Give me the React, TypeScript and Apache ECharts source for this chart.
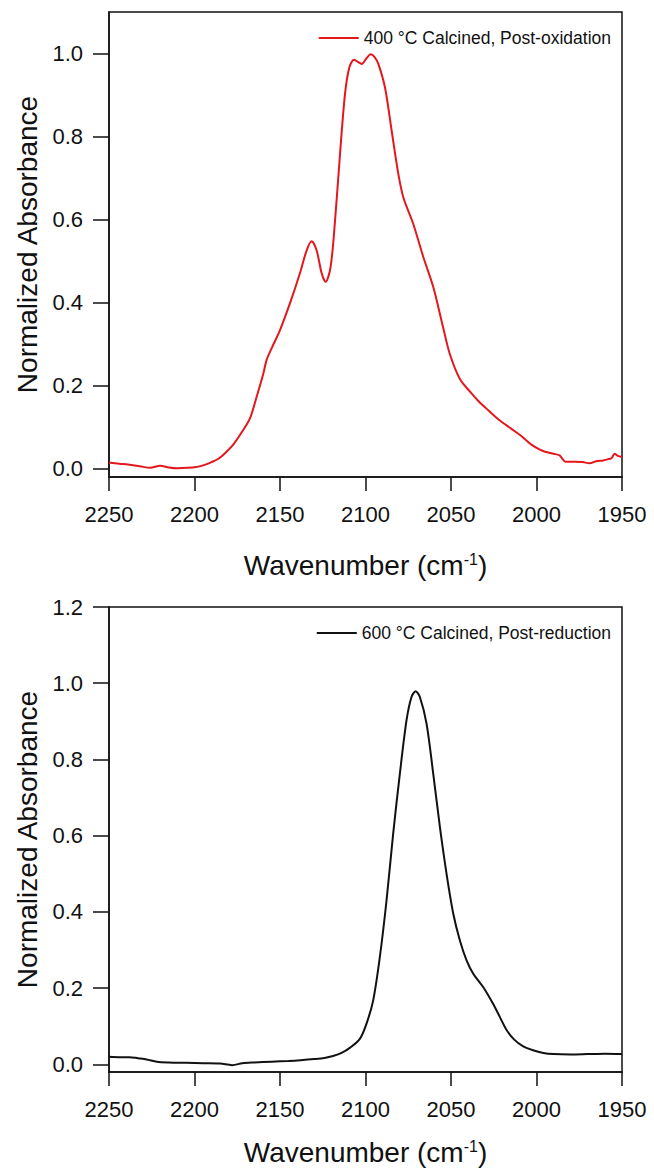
import React, { useEffect, useRef } from "react";
import * as echarts from "echarts";

// ---------- Data ----------
const topWavenumbers = [
  2250, 2244, 2239, 2232, 2226, 2220, 2215, 2210, 2204, 2199, 2195, 2190, 2186, 2182, 2177, 2172,
  2167.5, 2163.6, 2160, 2157.8, 2154.9, 2150, 2144.2, 2138.4, 2134.4, 2131.5, 2128.6, 2125.6,
  2123.3, 2120.4, 2117.8, 2114.9, 2112, 2109.5, 2106.7, 2104.5, 2102.2, 2099.5, 2097, 2094.8,
  2092.5, 2088.6, 2084.7, 2080.8, 2077.9, 2072.1, 2066.2, 2060.4, 2054.6, 2050.6, 2044.8, 2039,
  2034, 2028, 2022, 2015, 2008.7, 2003, 1998, 1995, 1990, 1986.5, 1984.5, 1983, 1978, 1973, 1969,
  1965, 1961, 1958, 1956, 1954.3, 1952.5, 1950,
];
const topAbsorbance = [
  0.015, 0.012, 0.01, 0.006, 0.002, 0.007, 0.003, 0.001, 0.002, 0.004, 0.008, 0.016, 0.024, 0.038,
  0.06, 0.09, 0.122, 0.174, 0.225, 0.262, 0.29, 0.334, 0.398, 0.47, 0.526, 0.548, 0.526, 0.47,
  0.45, 0.486, 0.598, 0.758, 0.902, 0.966, 0.985, 0.98, 0.975, 0.988, 0.998, 0.992, 0.975, 0.918,
  0.814, 0.71, 0.654, 0.59, 0.51, 0.438, 0.34, 0.275, 0.216, 0.186, 0.163, 0.14, 0.118, 0.097,
  0.078, 0.058, 0.046, 0.041, 0.036, 0.032, 0.022, 0.017, 0.017, 0.016, 0.013, 0.018, 0.02, 0.023,
  0.026, 0.036, 0.031, 0.028,
];

const bottomWavenumbers = [
  2250, 2244, 2238, 2233, 2228, 2222, 2215, 2205, 2195, 2185, 2178, 2172, 2165, 2155, 2145, 2138,
  2130, 2124, 2119, 2114, 2109, 2103.3, 2099.4, 2095.5, 2091.6, 2087.7, 2083.8, 2079.9, 2076,
  2073.1, 2070.7, 2068.2, 2064.3, 2060.4, 2056.5, 2052.6, 2048.7, 2044.8, 2040.9, 2037, 2031.2,
  2025.4, 2021.4, 2017.5, 2013, 2008, 2002, 1996, 1990, 1980, 1970, 1960, 1950,
];
const bottomAbsorbance = [
  0.02, 0.019, 0.019, 0.016, 0.013, 0.007, 0.005, 0.004, 0.003, 0.002, -0.002, 0.003, 0.005,
  0.007, 0.009, 0.011, 0.014, 0.017, 0.022, 0.03, 0.044, 0.067, 0.107, 0.168, 0.282, 0.43, 0.606,
  0.763, 0.903, 0.964, 0.979, 0.964, 0.894, 0.763, 0.623, 0.5, 0.396, 0.325, 0.273, 0.238, 0.203,
  0.159, 0.124, 0.09, 0.065, 0.048, 0.037, 0.03, 0.027, 0.026, 0.027, 0.028, 0.027,
];

const topTicks = [0, 0.2, 0.4, 0.6, 0.8, 1.0];
const bottomTicks = [0, 0.2, 0.4, 0.6, 0.8, 1.0, 1.2];

const topName = "400 °C Calcined, Post-oxidation";
const bottomName = "600 °C Calcined, Post-reduction";

const FONT = 'Arial, "Liberation Sans", sans-serif';

function xAxisFor(gridIndex: number, nameGap: number) {
  return {
    gridIndex,
    type: "value",
    min: 1950,
    max: 2250,
    interval: 50,
    inverse: true,
    name: "Wavenumber (cm{sup|-1})",
    nameLocation: "middle",
    nameGap,
    nameTextStyle: {
      fontSize: 28,
      fontFamily: FONT,
      color: "#111",
      rich: {
        sup: { fontSize: 16, fontFamily: FONT, color: "#111", verticalAlign: "top" },
      },
    },
    axisLine: { show: true, onZero: false, lineStyle: { color: "#111", width: 1.5 } },
    axisTick: { show: true, inside: false, length: 14, lineStyle: { color: "#111", width: 1.5 } },
    axisLabel: {
      fontSize: 22,
      fontFamily: FONT,
      color: "#111",
      margin: 26,
      formatter: (v: number) => String(v),
    },
    splitLine: { show: false },
  };
}

function yAxisFor(gridIndex: number, max: number, ticks: number[]) {
  return {
    gridIndex,
    type: "value",
    min: -0.02,
    max,
    name: "Normalized Absorbance",
    nameLocation: "middle",
    nameGap: 68,
    nameRotate: 90,
    nameTextStyle: { fontSize: 28, fontFamily: FONT, color: "#111" },
    axisLine: { show: true, onZero: false, lineStyle: { color: "#111", width: 1.5 } },
    axisTick: {
      show: true,
      inside: false,
      length: 16,
      customValues: ticks,
      lineStyle: { color: "#111", width: 1.5 },
    },
    axisLabel: {
      fontSize: 22,
      fontFamily: FONT,
      color: "#111",
      margin: 26,
      customValues: ticks,
      formatter: (v: number) => v.toFixed(1),
    },
    splitLine: { show: false },
  };
}

export default function App() {
  const ref = useRef<HTMLDivElement>(null);

  useEffect(() => {
    document.body.style.margin = "0";
    if (!ref.current) return;
    const chart = echarts.init(ref.current, null, { renderer: "svg" });
    const topData = topWavenumbers.map((w, i) => [w, topAbsorbance[i]]);
    const bottomData = bottomWavenumbers.map((w, i) => [w, bottomAbsorbance[i]]);

    const legendBase = {
      right: 38,
      icon: "rect",
      itemWidth: 40,
      itemHeight: 2,
      itemGap: 5,
      textStyle: { fontSize: 17.5, fontFamily: FONT, color: "#111", padding: [0, 0, 0, 0] },
    };

    chart.setOption({
      animation: false,
      backgroundColor: "#fff",
      textStyle: { fontFamily: FONT },
      grid: [
        { left: 109, top: 12, width: 513, height: 465, show: true, borderColor: "#111", borderWidth: 1.5, containLabel: false },
        { left: 109, top: 607, width: 513, height: 465, show: true, borderColor: "#111", borderWidth: 1.5, containLabel: false },
      ],
      legend: [
        { ...legendBase, data: [topName], top: 24 },
        { ...legendBase, data: [bottomName], top: 619 },
      ],
      xAxis: [xAxisFor(0, 74), xAxisFor(1, 66)],
      yAxis: [yAxisFor(0, 1.1, topTicks), yAxisFor(1, 1.2, bottomTicks)],
      series: [
        {
          name: topName,
          type: "line",
          xAxisIndex: 0,
          yAxisIndex: 0,
          data: topData,
          symbol: "none",
          showSymbol: false,
          smooth: 0.3,
          lineStyle: { color: "#e3171d", width: 2 },
          itemStyle: { color: "#e3171d" },
        },
        {
          name: bottomName,
          type: "line",
          xAxisIndex: 1,
          yAxisIndex: 1,
          data: bottomData,
          symbol: "none",
          showSymbol: false,
          smooth: 0.3,
          lineStyle: { color: "#111", width: 2 },
          itemStyle: { color: "#111" },
        },
      ],
    });
    return () => chart.dispose();
  }, []);

  return <div ref={ref} style={{ width: 654, height: 1172 }} />;
}
